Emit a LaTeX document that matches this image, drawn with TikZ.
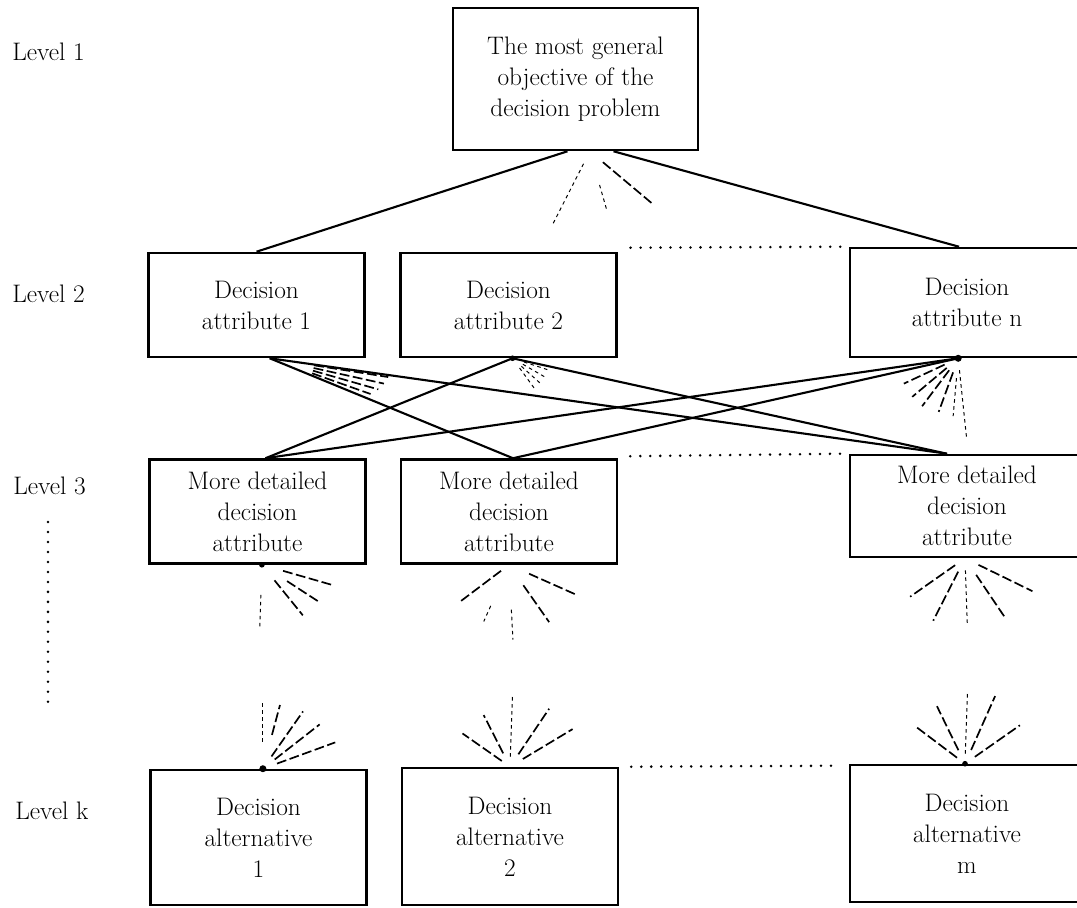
\documentclass[tikz,border=0pt]{standalone}
\usepackage{fontspec}
\usepackage{tikz}
\usetikzlibrary{calc}
\tikzset{
  %---------------------%
  %  Boxes and labels   %
  %---------------------%
  % Box for every element of the hierarchy
  box_level/.style={
    rectangle,
    align=center,
    draw=black,
    line width=1.8pt,
    inner sep=2pt,
    minimum width=5.4cm,
    minimum height=2.6cm,
    font=\fontsize{18}{22}\selectfont
  },
  % Box of the right-hand column (runs past the page edge)
  box_right/.style={
    box_level,
    minimum width=5.85cm
  },
  % Level names on the left
  level_name/.style={
    anchor=base west,
    inner sep=0pt,
    font=\fontsize{18}{22}\selectfont
  },
  %----------------%
  %     Lines      %
  %----------------%
  link/.style={draw, line width=1.5pt},
  ray/.style={draw, line width=1.2pt, dash pattern=on 7pt off 2.5pt},
  ray_faint/.style={draw, line width=0.7pt, dash pattern=on 2.5pt off 2.5pt},
  dots/.style={draw, line width=2pt, line cap=round, dash pattern=on 0pt off 7.1pt},
}

\begin{document}
\begin{tikzpicture}[x=0.025cm, y=-0.025cm]
    \useasboundingbox (0,0) rectangle (1077,907);
    \clip (0,0) rectangle (1077,907);

    %-----------%
    %  Levels   %
    %-----------%
    \node (lvl1) [level_name] at (12,61)  {Level 1};
    \node (lvl2) [level_name] at (12,302) {Level 2};
    \node (lvl3) [level_name] at (13,494) {Level 3};
    \node (lvlk) [level_name] at (15,819) {Level k};
    % Levels in between
    \coordinate (dots_top) at (48,522);
    \coordinate (dots_bottom) at (48,702);
    \draw [dots] (dots_top) -- (dots_bottom);

    %-----------%
    %  Level 1  %
    %-----------%
    \node (top) [box_level, minimum width=6.125cm, minimum height=3.55cm] at (575.5,79)
        {The most general\\objective of the\\decision problem};

    %-----------%
    %  Level 2  %
    %-----------%
    \node (a1) [box_level] at (256.5,305) {Decision\\attribute 1};
    \node (a2) [box_level] at (508.5,305) {Decision\\attribute 2};
    \node (an) [box_right, minimum height=2.725cm] at (967,302.5) {Decision\\attribute n};

    %-----------%
    %  Level 3  %
    %-----------%
    \node (m1) [box_level] at (257.5,511.5) {More detailed\\decision\\attribute};
    \node (m2) [box_level] at (509,511.5) {More detailed\\decision\\attribute};
    \node (mn) [box_right, minimum height=2.55cm] at (967,506) {More detailed\\decision\\attribute};

    %-----------%
    %  Level k  %
    %-----------%
    \node (d1) [box_level, minimum height=3.375cm] at (258.5,837.5) {Decision\\alternative\\1};
    \node (d2) [box_level, minimum height=3.425cm] at (510,836.5) {Decision\\alternative\\2};
    \node (dm) [box_right, minimum height=3.425cm] at (967,833.5) {Decision\\alternative\\m};

    % Boxes left out
    \draw [dots] ([xshift=0.32cm, yshift=0.1cm]a2.north east) -- ([xshift=-0.2cm]an.north west);
    \draw [dots] ([xshift=0.3cm, yshift=0.05cm]m2.north east) -- ([xshift=-0.2cm]mn.north west);
    \draw [dots] ([xshift=0.3cm]d2.north east) -- ([xshift=-0.2cm, yshift=-0.05cm]dm.north west);

    %----------%
    %  Links   %
    %----------%
    % Level 1 --> Level 2
    \draw [link] ([xshift=-0.2cm]top.south) -- (a1.north);
    \draw [link] ([xshift=0.95cm]top.south) -- ([xshift=-0.2cm]an.north);
    % Level 2 --> Level 3
    \draw [link] ([xshift=0.33cm]a1.south) -- ([xshift=0.1cm]m2.north);
    \draw [link] ([xshift=0.33cm]a1.south) -- ([xshift=-0.5cm]mn.north);
    \draw [link] ([xshift=0.1cm]a2.south) -- ([xshift=0.2cm]m1.north);
    \draw [link] ([xshift=0.1cm]a2.south) -- ([xshift=-0.5cm]mn.north);
    \draw [link] ([xshift=-0.22cm]an.south) -- ([xshift=0.2cm]m1.north);
    \draw [link] ([xshift=-0.22cm]an.south) -- ([xshift=0.1cm]m2.north);

    %----------------------%
    %  Links left out      %
    %----------------------%
    % Level 1
    \draw [ray] ([xshift=0.36cm]top.south) ++(40:17) -- ++(40:65);
    \foreach \a/\r/\l in {117/14/70, 74/35/27}
      \draw [ray_faint] ([xshift=0.36cm]top.south) ++(\a:\r) -- ++(\a:\l);
    % Level 2
    \foreach \a/\r/\l in {9/45/75, 12.5/45/72, 16/45/68, 19.5/45/62}
      \draw [ray] ([xshift=0.33cm]a1.south) ++(\a:\r) -- ++(\a:\l);
    \foreach \a in {18, 30, 42, 54}
      \draw [ray_faint] ([xshift=0.1cm]a2.south) ++(\a:12) -- ++(\a:28);
    \foreach \a/\r/\l in {155/15/45, 140/15/45, 127/15/45, 110/15/42}
      \draw [ray] ([xshift=-0.22cm]an.south) ++(\a:\r) -- ++(\a:\l);
    \foreach \a/\r/\l in {95/20/38, 84/12/68}
      \draw [ray_faint] ([xshift=-0.22cm]an.south) ++(\a:\r) -- ++(\a:\l);
    % Level 3
    \foreach \a/\r/\l in {16/22/50, 33/30/38, 51/20/45}
      \draw [ray] ([xshift=0.11cm]m1.south) ++(\a:\r) -- ++(\a:\l);
    \draw [ray_faint] ([xshift=0.11cm]m1.south) ++(92:30) -- ++(92:32);
    \foreach \a/\r/\l in {143/10/52, 55/25/45, 24/22/51}
      \draw [ray] (m2.south) ++(\a:\r) -- ++(\a:\l);
    \foreach \a/\r/\l in {114/45/17, 87/45/30}
      \draw [ray_faint] (m2.south) ++(\a:\r) -- ++(\a:\l);
    \foreach \a/\r/\l in {145/12/55, 117/15/55, 56/20/52, 26/15/60}
      \draw [ray] ([xshift=-0.05cm]mn.south) ++(\a:\r) -- ++(\a:\l);
    \draw [ray_faint] ([xshift=-0.05cm]mn.south) ++(88:12) -- ++(88:56);
    % Level k
    \foreach \a/\r/\l in {-75/35/31, -55/15/55, -38/15/57, -20/15/62}
      \draw [ray] ([xshift=0.11cm]d1.north) ++(\a:\r) -- ++(\a:\l);
    \draw [ray_faint] ([xshift=0.11cm]d1.north) ++(-90:27) -- ++(-90:40);
    \foreach \a/\r/\l in {-145/10/48, -117/15/43, -56/15/55, -31/15/58}
      \draw [ray] (d2.north) ++(\a:\r) -- ++(\a:\l);
    \draw [ray_faint] (d2.north) ++(-88:10) -- ++(-88:60);
    \foreach \a/\r/\l in {-143/10/52, -116/15/49, -66/15/59, -35/12/55}
      \draw [ray] ([xshift=-0.05cm]dm.north) ++(\a:\r) -- ++(\a:\l);
    \draw [ray_faint] ([xshift=-0.05cm]dm.north) ++(-88:10) -- ++(-88:60);

    % Joints
    \fill ([xshift=0.1cm]a2.south) circle (2pt);
    \fill ([xshift=-0.22cm]an.south) circle (2.5pt);
    \fill ([xshift=0.11cm]m1.south) circle (2pt);
    \fill ([xshift=0.11cm]d1.north) circle (2.5pt);
    \fill ([xshift=-0.05cm]dm.north) circle (2pt);
\end{tikzpicture}
\end{document}
